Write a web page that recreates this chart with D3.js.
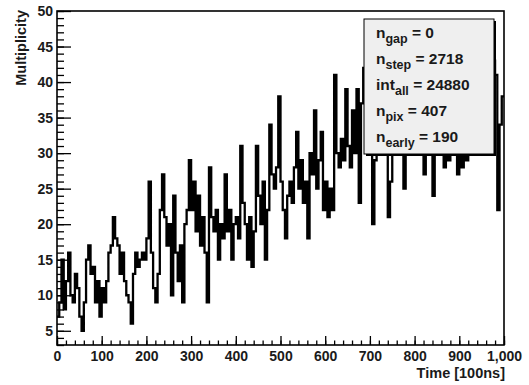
<!DOCTYPE html>
<html>
<head>
<meta charset="utf-8">
<script src="https://cdn.jsdelivr.net/npm/d3@7"></script>
<style>
  body { margin: 0; background: #fff; }
  svg { display: block; }
  text { font-family: "Liberation Sans", Arial, sans-serif; fill: #1a1a1a; font-weight: bold; }
</style>
</head>
<body>
<div id="chart"></div>
<script>
(function () {
    "use strict";

    // histogram contents, one value per 5-unit time bin (0..1000)
    var binWidth = 5;
    var multiplicity = [
        7, 9, 15, 8, 12, 16, 10, 9, 13, 11,
        7, 5, 9, 15, 17, 13, 14, 9, 12, 7,
        11, 9, 12, 16, 17, 21, 18, 17, 13, 16,
        12, 10, 9, 6, 13, 16, 14, 15, 16, 15,
        18, 26, 16, 11, 9, 13, 22, 27, 21, 17,
        20, 10, 24, 16, 12, 17, 9, 20, 22, 29,
        22, 26, 19, 24, 17, 21, 16, 9, 28, 21,
        19, 22, 15, 20, 18, 27, 19, 22, 15, 20,
        21, 18, 31, 23, 20, 15, 21, 14, 19, 31,
        24, 20, 26, 15, 22, 34, 27, 25, 28, 38,
        26, 22, 18, 24, 26, 23, 28, 33, 25, 29,
        23, 26, 18, 30, 27, 36, 25, 29, 33, 22,
        26, 21, 25, 22, 41, 30, 28, 32, 29, 39,
        31, 28, 36, 30, 39, 23, 37, 42, 38, 44,
        36, 20, 29, 40, 45, 38, 43, 37, 21, 26,
        41, 38, 46, 40, 35, 25, 42, 39, 44, 37,
        41, 45, 38, 40, 27, 30, 40, 43, 24, 36,
        44, 39, 42, 28, 33, 29, 41, 38, 45, 27,
        34, 28, 31, 29, 40, 43, 39, 46, 41, 38,
        44, 40, 47, 42, 39, 43, 41, 22, 34, 38
    ];

    var xTicks = [0, 100, 200, 300, 400, 500, 600, 700, 800, 900, 1000];
    var yTicks = [5, 10, 15, 20, 25, 30, 35, 40, 45, 50];

    // stats box lines: main symbol, subscript, value
    var statNames = ["n", "n", "int", "n", "n"];
    var statSubs = ["gap", "step", "all", "pix", "early"];
    var statValues = ["0", "2718", "24880", "407", "190"];

    var W = 529, H = 385;
    var left = 57, right = 504, top = 11, bottom = 345;

    var svg = d3.select("#chart").append("svg")
        .attr("width", W)
        .attr("height", H);

    var x = d3.scaleLinear().domain([0, 1000]).range([left, right]);
    var y = d3.scaleLinear().domain([3, 50]).range([bottom, top]);

    // histogram as a step line
    var pts = multiplicity.map(function (d, i) { return [i * binWidth, d]; });
    pts.push([multiplicity.length * binWidth, multiplicity[multiplicity.length - 1]]);

    var line = d3.line()
        .x(function (d) { return x(d[0]); })
        .y(function (d) { return y(d[1]); })
        .curve(d3.curveStepAfter);

    svg.append("defs").append("clipPath").attr("id", "frameClip")
        .append("rect")
        .attr("x", left).attr("y", top)
        .attr("width", right - left).attr("height", bottom - top);

    svg.append("path")
        .datum(pts)
        .attr("clip-path", "url(#frameClip)")
        .attr("d", line)
        .attr("fill", "none")
        .attr("stroke", "#000")
        .attr("stroke-width", 2.3);

    // x axis, ticks pointing into the frame
    var xAxis = svg.append("g").attr("transform", "translate(0," + bottom + ")");
    xAxis.call(d3.axisBottom(x).tickValues(xTicks).tickSizeInner(-9).tickSizeOuter(0).tickPadding(6));
    var xMinor = svg.append("g").attr("transform", "translate(0," + bottom + ")");
    xMinor.call(d3.axisBottom(x).tickValues(d3.range(0, 1001, 20)).tickSizeInner(-4.5).tickSizeOuter(0).tickFormat(""));

    var yAxis = svg.append("g").attr("transform", "translate(" + left + ",0)");
    yAxis.call(d3.axisLeft(y).tickValues(yTicks).tickSizeInner(-14).tickSizeOuter(0).tickPadding(4));
    var yMinor = svg.append("g").attr("transform", "translate(" + left + ",0)");
    yMinor.call(d3.axisLeft(y).tickValues(d3.range(3, 51, 1)).tickSizeInner(-7).tickSizeOuter(0).tickFormat(""));

    svg.selectAll(".domain").remove();
    svg.selectAll(".tick line").attr("stroke", "#000").attr("stroke-width", 1.3);
    xAxis.selectAll("text").style("font-size", "14px").attr("dy", "0.71em");
    yAxis.selectAll("text").style("font-size", "14px");

    // frame
    svg.append("rect")
        .attr("x", left).attr("y", top)
        .attr("width", right - left).attr("height", bottom - top)
        .attr("fill", "none")
        .attr("stroke", "#000")
        .attr("stroke-width", 1.6);

    // axis titles
    svg.append("text")
        .attr("x", right + 1).attr("y", 378)
        .attr("text-anchor", "end")
        .style("font-size", "14.5px")
        .text("Time [100ns]");

    svg.append("text")
        .attr("transform", "translate(26," + (top - 1) + ") rotate(-90)")
        .attr("text-anchor", "end")
        .style("font-size", "14.5px")
        .text("Multiplicity");

    // stats box with shadow
    var bx = 364, by = 19, bw = 130, bh = 135;
    svg.append("rect")
        .attr("x", bx + 2).attr("y", by + 2)
        .attr("width", bw).attr("height", bh)
        .attr("fill", "#000");
    svg.append("rect")
        .attr("x", bx).attr("y", by)
        .attr("width", bw).attr("height", bh)
        .attr("fill", "#efefef")
        .attr("stroke", "#000")
        .attr("stroke-width", 1);

    statNames.forEach(function (name, i) {
        var t = svg.append("text")
            .attr("x", 376)
            .attr("y", 38 + i * 26)
            .style("font-size", "15.5px");
        t.append("tspan").text(name);
        t.append("tspan").attr("dy", 5).style("font-size", "12.5px").text(statSubs[i]);
        t.append("tspan").attr("dy", -5).text(" = " + statValues[i]);
    });
})();
</script>
</body>
</html>
